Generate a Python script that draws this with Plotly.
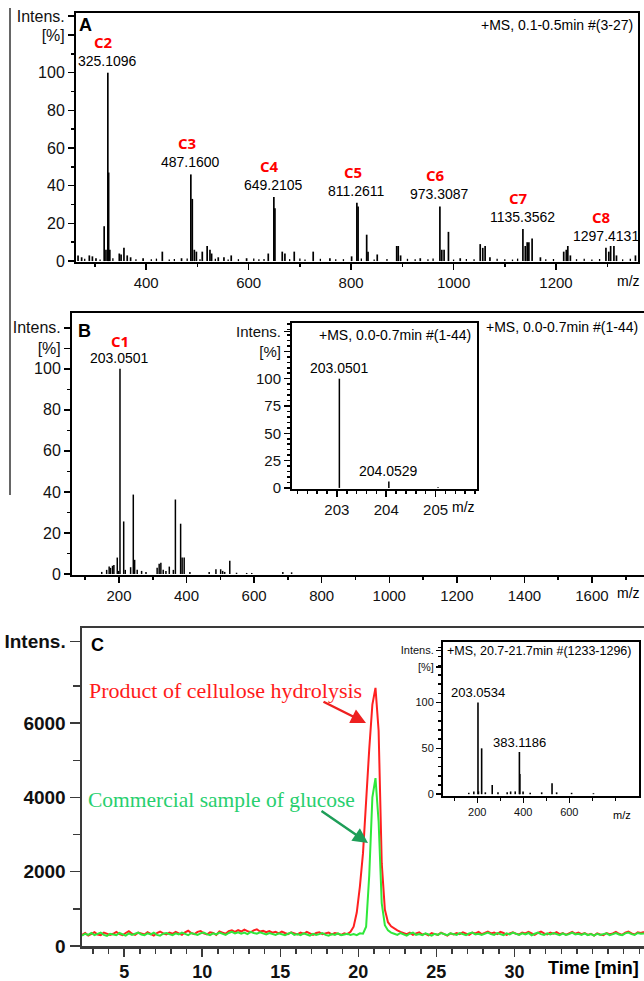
import plotly.graph_objects as go

# ---------------- data ----------------
# Panel A : MS spectrum, m/z vs relative intensity [%]
a_mz = [267, 274, 289, 295, 302, 318, 321.5, 325.1096, 326.7, 329, 347.5, 351, 356.6, 363, 369.6,
        394, 431.5, 469, 487.1600, 490, 494, 498, 509.5, 519, 524.5, 527.7, 540.7, 551.8, 566, 596,
        638.3, 649.2105, 651.3, 665.6, 670.8, 689, 726, 758.6, 801, 811.2611, 813.6, 830.4, 833, 851,
        889, 892, 896.6, 935, 973.3087, 977, 981.5, 990, 1013, 1052, 1057, 1061.6, 1071,
        1135.3562, 1140, 1143.7, 1147, 1153.3, 1169.5, 1215, 1220, 1223, 1228,
        1297.4131, 1303, 1306.6, 1313, 1318, 1355]
a_int = [3, 2, 3, 2.5, 1.5, 18.5, 6, 100, 47, 6, 4, 3.5, 7, 3, 2,
         1.5, 5, 1.5, 46, 33, 6, 5, 5, 8, 6, 4, 2, 2, 3, 1.5,
         4, 34, 28, 5, 4, 5, 5, 1.5, 2.5, 31, 29, 14, 5, 3.5,
         8, 8, 3, 1.5, 29, 6, 6, 15.5, 1.5, 9, 7, 8, 2,
         17, 8, 10, 10, 12, 2, 5, 6, 8, 3,
         7, 5, 8, 8, 3, 3]
a_noise_mz = [280, 310, 335, 380, 410, 420, 445, 455, 480, 505, 535, 560, 580, 610, 620, 630, 680,
              700, 710, 740, 770, 785, 820, 845, 870, 910, 925, 950, 960, 1000, 1025, 1040, 1085,
              1100, 1115, 1125, 1180, 1195, 1240, 1255, 1270, 1285, 1330, 1345]
a_noise_int = [1.2, 0.8, 1.5, 1.0, 0.9, 1.3, 0.8, 1.1, 1.4, 0.9, 1.2, 0.8, 1.0, 1.3, 0.9, 1.1, 1.0,
               1.4, 0.8, 1.2, 0.9, 1.0, 1.3, 0.8, 1.1, 1.2, 0.9, 1.0, 1.3, 0.8, 1.1, 0.9, 1.2,
               1.0, 0.8, 1.3, 0.9, 1.1, 1.0, 1.2, 0.8, 1.1, 0.9, 1.2]
a_lab_mz = [325.1096, 487.1600, 649.2105, 811.2611, 973.3087, 1135.3562, 1297.4131]
a_lab_int = [100, 46, 34, 31, 29, 17, 7]
a_lab_name = ["C2", "C3", "C4", "C5", "C6", "C7", "C8"]

# Panel B : MS spectrum
b_mz = [149, 163.6, 171, 175, 181, 185, 195, 199, 203.0501, 214, 218.7, 234.5, 242.4, 246.4, 254,
        267, 280, 313, 319, 324, 331, 339, 349, 361, 367, 382.5, 387, 393, 410, 467, 487, 501,
        507, 513, 528, 548, 578, 593, 685, 711]
b_int = [1, 2, 3.6, 3, 4, 4.4, 8, 1.5, 100, 25.6, 2, 3.3, 38.7, 6.9, 2,
         1.5, 1, 3, 5, 5.5, 2, 1.5, 3.6, 2, 36.3, 24.5, 8, 8, 1, 1, 2.3, 2.3,
         1.5, 1, 6.5, 0.6, 0.5, 0.5, 1, 0.8]
b_lab_mz = [203.0501]
b_lab_int = [100]
b_lab_name = ["C1"]

# Panel B inset
ib_mz = [203.0501, 204.0529, 205.05]
ib_int = [100, 5.8, 0.6]
ib_lab_mz = [203.0501, 204.0529]
ib_lab_int = [100, 5.8]

# Panel C : chromatograms (time in min, intensity)
t_min = [round(2.3 + 0.2 * i, 1) for i in range(181)]
red_int = [300, 350, 280, 330, 370, 310, 290, 360, 340, 300,
           330, 380, 320, 290, 350, 400, 330, 300, 360, 340,
           310, 370, 330, 280, 350, 390, 340, 310, 360, 330,
           380, 340, 300, 370, 410, 350, 320, 380, 400, 340,
           310, 370, 350, 300, 390, 360, 330, 400, 420, 380,
           430, 390, 440, 400, 370, 420, 450, 390, 410, 370,
           400, 360, 380, 340, 390, 350, 320, 370, 340, 310,
           360, 330, 380, 340, 300, 350, 370, 320, 340, 360,
           310, 350, 330, 300, 340, 320,
           380, 520, 900, 1600, 2500, 4000, 5300, 6500, 6950, 5800, 2230, 980, 640, 530, 470, 420,
           380, 350, 320, 360, 300, 340, 370, 310,
           330, 290, 350, 320, 300, 360, 330, 280, 340, 310,
           350, 320, 370, 330, 300, 360, 340, 380, 320, 350,
           390, 340, 360, 320, 380, 350, 300, 340, 370, 330,
           310, 360, 340, 380, 330, 300, 350, 390, 340, 310,
           360, 330, 370, 320, 350, 300, 340, 380, 330, 360,
           320, 350, 300, 330, 280, 340, 310, 290, 350, 320,
           340, 380, 330, 300, 360, 390, 340, 310, 370, 350, 380]
green_int = [280, 330, 300, 350, 290, 320, 360, 300, 270, 330,
             310, 290, 350, 320, 280, 340, 300, 330, 360, 310,
             290, 340, 310, 360, 300, 280, 330, 350, 310, 290,
             340, 310, 360, 320, 290, 350, 330, 300, 340, 360,
             320, 290, 340, 310, 360, 330, 300, 350, 380, 340,
             370, 330, 360, 320, 380, 350, 330, 370, 340, 310,
             350, 320, 300, 340, 310, 290, 330, 360, 300, 320,
             290, 340, 310, 280, 330, 300, 320, 350, 300, 280,
             320, 300, 340, 290, 310, 330, 300, 320, 290, 340,
             330, 520, 1900, 4000, 4520, 3350, 1150, 560, 420, 360,
             330, 300, 350, 310, 280, 330, 360, 300, 320, 290,
             340, 310, 280, 330, 300, 350, 320, 290, 340, 310,
             300, 350, 320, 290, 340, 360, 310, 330, 300, 340,
             360, 320, 300, 350, 330, 290, 340, 310, 360, 320,
             300, 340, 310, 350, 290, 330, 360, 320, 300, 340,
             310, 350, 330, 290, 340, 300, 320, 360, 310, 330,
             300, 340, 290, 320, 280, 330, 300, 310, 340, 290,
             330, 350, 310, 290, 340, 360, 320, 300, 350, 330, 340]

# Panel C inset
ic_mz = [163, 185, 203.0534, 205, 219, 235, 265, 290, 330, 345, 365, 383.1186, 385, 399,
         430, 480, 525, 545, 610, 705]
ic_int = [1.5, 3, 100, 3, 50, 2, 10, 2, 2, 3, 3, 46, 22, 3, 1.5, 2, 12, 2, 1.5, 1]
ic_lab_mz = [203.0534, 383.1186]
ic_lab_int = [100, 46]

# ---------------- helpers ----------------
W, H = 644, 981


def fx(p):
    return p / W


def fy(p):
    return 1 - p / H


SANS = "Liberation Sans, Arial, sans-serif"
SERIF = "Liberation Serif, Times New Roman, serif"


def sticks(mz, inten):
    xs, ys = [], []
    for m, h in zip(mz, inten):
        xs += [m, m, None]
        ys += [0, h, None]
    return xs, ys


def axis(domain, rng, anchor, tickvals, ticktext=None, minor=None, size=15, mirror=False,
         color="black", lw=2, ticklen=6, weight="normal"):
    d = dict(domain=domain, range=rng, anchor=anchor, showline=True, linecolor=color,
             linewidth=lw, mirror=mirror, ticks="outside", tickcolor=color, tickwidth=1.5,
             ticklen=ticklen, showgrid=False, zeroline=False, automargin=False,
             tickmode="array", tickvals=tickvals,
             tickfont=dict(family=SANS, size=size, color="#111", weight=weight))
    if ticktext is not None:
        d["ticktext"] = ticktext
    if minor is not None:
        d["minor"] = dict(tickmode="array", tickvals=minor, ticks="outside",
                          ticklen=max(3, ticklen - 3), tickwidth=1.5, tickcolor=color)
    return d


fig = go.Figure()

# Panel A traces
xs, ys = sticks(a_noise_mz, a_noise_int)
fig.add_trace(go.Scatter(x=xs, y=ys, mode="lines", line=dict(color="black", width=1.3),
                         xaxis="x", yaxis="y", hoverinfo="skip", showlegend=False))
xs, ys = sticks(a_mz, a_int)
fig.add_trace(go.Scatter(x=xs, y=ys, mode="lines", line=dict(color="black", width=1.7),
                         xaxis="x", yaxis="y", hoverinfo="skip", showlegend=False))
# Panel B traces
xs, ys = sticks(b_mz, b_int)
fig.add_trace(go.Scatter(x=xs, y=ys, mode="lines", line=dict(color="black", width=1.5),
                         xaxis="x2", yaxis="y2", hoverinfo="skip", showlegend=False))
xs, ys = sticks(ib_mz, ib_int)
fig.add_trace(go.Scatter(x=xs, y=ys, mode="lines", line=dict(color="black", width=1.5),
                         xaxis="x3", yaxis="y3", hoverinfo="skip", showlegend=False))
# Panel C traces
fig.add_trace(go.Scatter(x=t_min, y=red_int, mode="lines", line=dict(color="#ff2020", width=2),
                         xaxis="x4", yaxis="y4", hoverinfo="skip", showlegend=False))
fig.add_trace(go.Scatter(x=t_min, y=green_int, mode="lines", line=dict(color="#2fe83a", width=2),
                         xaxis="x4", yaxis="y4", hoverinfo="skip", showlegend=False))
xs, ys = sticks(ic_mz, ic_int)
fig.add_trace(go.Scatter(x=xs, y=ys, mode="lines", line=dict(color="black", width=1.6),
                         xaxis="x5", yaxis="y5", hoverinfo="skip", showlegend=False))

layout = dict(
    width=W, height=H, margin=dict(l=0, r=0, t=0, b=0),
    paper_bgcolor="white", plot_bgcolor="rgba(0,0,0,0)", template="none", showlegend=False,
    hovermode=False,
)
# Panel A axes
layout["xaxis"] = axis([fx(76), fx(638)], [263, 1360], "y", [400, 600, 800, 1000, 1200],
                       minor=[300, 500, 700, 900, 1100, 1300], mirror=True)
layout["yaxis"] = axis([fy(262), fy(13)], [-0.5, 131.7], "x",
                       [0, 20, 40, 60, 80, 100, 120, 130],
                       ["0", "20", "40", "60", "80", "100", "[%]", "Intens."],
                       minor=[10, 30, 50, 70, 90, 110], mirror=True, size=16)
# Panel B axes
layout["xaxis2"] = axis([fx(72), 1.0], [61, 1754], "y2", [200, 400, 600, 800, 1000, 1200, 1400, 1600],
                        minor=[100, 300, 500, 700, 900, 1100, 1300, 1500, 1700], mirror=True)
layout["yaxis2"] = axis([fy(575), fy(313)], [-0.5, 127.2], "x2",
                        [0, 20, 40, 60, 80, 100, 110, 120],
                        ["0", "20", "40", "60", "80", "100", "[%]", "Intens."],
                        minor=[10, 30, 50, 70, 90], size=16)
# Panel B inset axes
layout["xaxis3"] = axis([fx(292), fx(477)], [202.09, 205.84], "y3", [203, 204, 205],
                        minor=[round(202.2 + 0.2 * k, 1) for k in range(19)], mirror=True, ticklen=6)
layout["yaxis3"] = axis([fy(489), fy(323)], [-1, 151], "x3",
                        [0, 25, 50, 75, 100, 125, 143],
                        ["0", "25", "50", "75", "100", "[%]", "Intens."],
                        minor=[5 * k for k in range(31)], mirror=True, ticklen=6)
# Panel C axes
layout["xaxis4"] = axis([fx(82), 1.0], [2.3, 38.3], "y4", [5, 10, 15, 20, 25, 30],
                        minor=list(range(3, 39)), mirror=True, color="#3a3a3a", lw=2.5,
                        size=18, ticklen=8, weight="bold")
layout["yaxis4"] = axis([fy(946), fy(628)], [0, 8560], "x4",
                        [0, 2000, 4000, 6000, 8200], ["0", "2000", "4000", "6000", "Intens."],
                        minor=[1000, 3000, 5000, 7000], color="#3a3a3a", lw=2.5,
                        size=19, ticklen=10, weight="bold")
# Panel C inset axes
layout["xaxis5"] = axis([fx(443), fx(639)], [51, 903], "y5", [200, 400, 600],
                        minor=[100, 300, 500, 700, 800], mirror=True, size=11, ticklen=5)
layout["yaxis5"] = axis([fy(796), fy(642)], [-2, 166], "x5",
                        [0, 50, 100, 139, 157], ["0", "50", "100", "[%]", "Intens."],
                        minor=[10 * k for k in range(17)], mirror=True, size=11, ticklen=5)

ann = []


def txt(x, y, s, size=14, color="black", xanchor="center", family=SANS, weight="normal",
        xref="paper", yref="paper", yshift=0, xshift=0, yanchor="middle"):
    ann.append(dict(x=x, y=y, xref=xref, yref=yref, text=s, showarrow=False, xanchor=xanchor,
                    yanchor=yanchor, yshift=yshift, xshift=xshift,
                    font=dict(family=family, size=size, color=color, weight=weight)))


# Panel A labels
for m, h, n in zip(a_lab_mz, a_lab_int, a_lab_name):
    txt(m, h, f"{m:.4f}", size=14, xref="x", yref="y", yshift=12)
    txt(m, h, n, size=15, color="#ff0000", family="Open Sans, sans-serif", weight="bold",
        xref="x", yref="y", yshift=31, xshift=-4)
txt(fx(635), fy(25), "+MS, 0.1-0.5min #(3-27)", size=14, xanchor="right")
txt(fx(628), fy(281), "m/z", size=14)
txt(fx(77), fy(25), "A", size=18, weight="bold", xanchor="left")

# Panel B labels
for m, h, n in zip(b_lab_mz, b_lab_int, b_lab_name):
    txt(m, h, f"{m:.4f}", size=14, xref="x2", yref="y2", yshift=11)
    txt(m, h, n, size=15, color="#ff0000", family="Open Sans, sans-serif", weight="bold",
        xref="x2", yref="y2", yshift=28)
txt(fx(640), fy(327), "+MS, 0.0-0.7min #(1-44)", size=14, xanchor="right")
txt(fx(628), fy(593), "m/z", size=14)
txt(fx(76), fy(331), "B", size=18, weight="bold", xanchor="left")
for m, h in zip(ib_lab_mz, ib_lab_int):
    txt(m, h, f"{m:.4f}", size=14, xref="x3", yref="y3", yshift=11)
txt(fx(473), fy(335), "+MS, 0.0-0.7min #(1-44)", size=14, xanchor="right")
txt(fx(463), fy(507), "m/z", size=14)

# Panel C labels
txt(fx(89), fy(645), "C", size=18, weight="bold", xanchor="left")
txt(fx(87), fy(690), "Product of cellulose hydrolysis", size=22, color="#ff1a1a",
    family=SERIF, xanchor="left")
txt(fx(86), fy(800), "Commercial sample of glucose", size=21.5, color="#27cf6e",
    family=SERIF, xanchor="left")
ann.append(dict(x=fx(366), y=fy(723), xref="paper", yref="paper", ax=-44, ay=-22, text="",
                showarrow=True, arrowhead=2, arrowsize=1.2, arrowwidth=2.5, arrowcolor="#ee2020"))
ann.append(dict(x=fx(368), y=fy(843), xref="paper", yref="paper", ax=-48, ay=-33, text="",
                showarrow=True, arrowhead=2, arrowsize=1.2, arrowwidth=2.5, arrowcolor="#1e9e58"))
txt(fx(641), fy(968), "Time [min]", size=18, weight="bold", xanchor="right")
for m, h in zip(ic_lab_mz, ic_lab_int):
    txt(m, h, f"{m:.4f}", size=13, xref="x5", yref="y5", yshift=10)
txt(fx(445), fy(651), "+MS, 20.7-21.7min #(1233-1296)", size=12.5, xanchor="left")
txt(fx(622), fy(815), "m/z", size=11)

layout["annotations"] = ann
layout["shapes"] = [dict(type="line", xref="paper", yref="paper", x0=fx(10), x1=fx(10),
                         y0=fy(8), y1=fy(495), line=dict(color="#333", width=1.5))]

fig.update_layout(**layout)
fig.write_html("out.html", config={"displayModeBar": False, "staticPlot": True})

# remove default browser page margin so the figure fills the window exactly
with open("out.html", "r", encoding="utf-8") as f:
    html = f.read()
html = html.replace("<head>", "<head><style>html,body{margin:0;padding:0;overflow:hidden;}</style>", 1)
with open("out.html", "w", encoding="utf-8") as f:
    f.write(html)
